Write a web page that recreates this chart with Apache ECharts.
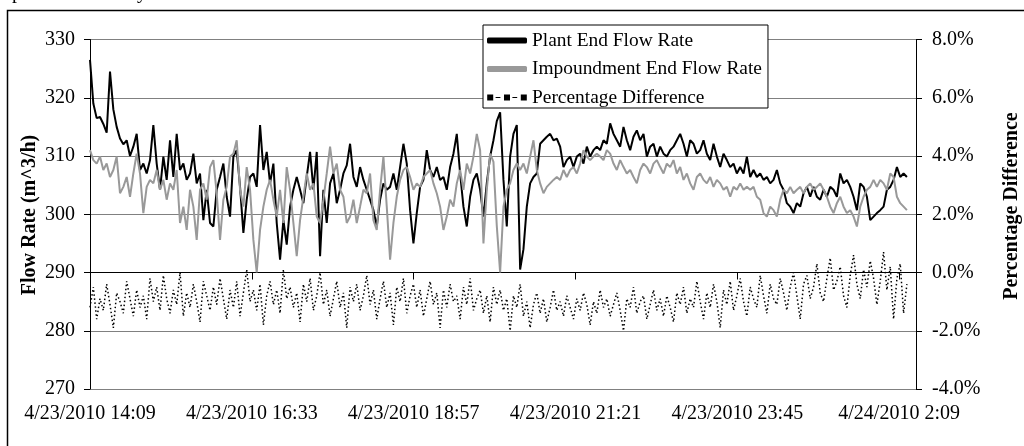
<!DOCTYPE html>
<html>
<head>
<meta charset="utf-8">
<script src="https://cdn.jsdelivr.net/npm/echarts@6/dist/echarts.min.js"></script>
<style>
html,body{margin:0;padding:0;background:#fff;}
#chart{width:1024px;height:446px;}
</style>
</head>
<body>
<div id="chart"></div>
<script>
// ---- Data ----
// x axis: minutes after 4/23/2010 14:09
const X_TICK_MINUTES = [0, 144, 288, 432, 576, 720];
const X_TICK_LABELS = ['4/23/2010 14:09', '4/23/2010 16:33', '4/23/2010 18:57', '4/23/2010 21:21', '4/23/2010 23:45', '4/24/2010 2:09'];
const X_MAX_MINUTES = 735;
const SAMPLE_MINUTES = 2.967; // spacing of the samples

const LEFT_TICKS = [270, 280, 290, 300, 310, 320, 330];
const RIGHT_TICKS = [-4, -2, 0, 2, 4, 6, 8];

const PLANT = [
326.5, 319.0, 316.5, 316.7, 315.5, 314.0, 324.5, 318.0, 315.0, 313.0,
312.0, 312.7, 310.0, 311.6, 313.8, 307.6, 308.7, 307.0, 309.3, 315.3,
308.7, 304.2, 309.9, 305.9, 312.7, 306.4, 313.8, 307.6, 308.7, 305.9,
307.0, 310.4, 305.3, 307.0, 299.0, 304.2, 298.5, 297.9, 304.2, 306.4,
308.7, 303.0, 299.6, 309.9, 311.0, 304.7, 296.8, 302.5, 306.4, 307.0,
304.7, 315.3, 307.6, 310.7, 305.3, 308.7, 298.5, 292.2, 299.0, 294.8,
301.3, 304.2, 306.4, 304.2, 301.9, 306.4, 310.7, 304.2, 310.7, 292.8,
304.2, 298.5, 305.3, 307.0, 301.9, 304.2, 307.0, 308.4, 312.1, 306.4,
304.7, 308.1, 305.9, 304.2, 302.5, 300.7, 297.9, 302.5, 305.3, 304.2,
304.7, 307.0, 304.2, 308.1, 312.1, 308.7, 300.7, 295.0, 300.2, 304.7,
305.9, 311.0, 307.6, 306.4, 308.1, 305.9, 306.4, 304.2, 308.1, 310.4,
313.8, 307.0, 301.3, 297.9, 303.0, 305.9, 307.0, 304.2, 299.6, 305.3,
309.9, 312.7, 316.0,
317.5, 305.9, 297.9, 309.9, 313.8, 315.3, 290.5, 294.0, 301.3, 305.3,
306.4, 307.0, 312.1, 312.7, 313.3, 313.8, 312.7, 313.0, 311.6, 308.1,
309.3, 309.9, 308.1, 309.9, 310.4, 308.7, 311.6, 309.9, 311.0, 311.6,
311.0, 312.7, 312.1, 315.6, 313.8, 312.7, 311.6, 315.0, 312.7, 311.0,
313.3, 314.4, 312.7, 313.8, 309.9, 311.6, 312.1, 309.9, 311.6, 310.4,
309.9, 311.0, 311.6, 312.7, 313.8, 312.1, 309.9, 312.7, 312.1, 310.4,
311.0, 312.7, 310.4, 309.3, 312.1, 309.9, 308.1, 310.4, 309.3, 308.1,
308.7, 307.0, 308.1, 307.0, 309.9, 306.4, 307.6, 306.4, 307.0, 305.9,
306.4, 305.3, 305.9, 307.6, 305.3, 304.2, 301.9, 301.3, 300.2, 301.9,
301.3, 303.6, 304.7, 303.0, 304.7, 303.0, 302.5, 304.2, 303.0, 304.7,
304.2, 303.0, 307.0, 305.3, 305.9, 304.7, 303.0, 300.7, 305.3, 304.7,
303.0, 299.0, 299.6, 300.2, 300.7, 301.3, 304.2, 304.7, 305.9, 308.1,
306.4, 307.0, 306.4
];

const IMPOUNDMENT = [
311.0, 309.3, 308.7, 309.9, 307.6, 308.7, 306.4, 307.6, 309.9, 303.6,
304.7, 306.4, 303.0, 307.0, 310.4, 307.0, 300.2, 304.7, 305.9, 305.3,
307.6, 304.2, 305.9, 302.5, 305.3, 304.2, 307.6, 298.5, 301.3, 297.3,
304.2, 301.3, 295.6, 304.2, 305.3, 302.5, 308.1, 309.3, 303.6, 295.6,
302.5, 304.7, 309.9, 310.4, 312.7, 304.2, 301.3, 308.1, 304.2, 295.6,
290.0, 297.3, 301.3, 304.2, 305.9, 302.5, 299.6, 304.2, 298.5, 308.1,
304.2, 298.5, 292.8, 299.0, 303.0, 307.0, 304.2, 305.3, 299.6, 298.5,
302.5, 307.0, 311.6, 307.0, 308.7, 304.2, 303.0, 298.5, 299.6, 302.5,
298.5, 301.3, 304.2, 303.6, 307.0, 299.0, 297.3, 304.2, 309.9, 301.3,
292.2, 298.5, 303.0, 305.9, 307.6, 308.1, 306.4, 304.2, 305.3, 304.7,
306.4, 307.0, 307.6, 305.3, 303.6, 301.3, 297.3, 299.6, 302.5, 301.3,
305.3, 307.6, 304.2, 308.7, 307.0, 309.9, 313.8, 311.0, 295.0, 304.2,
310.4, 309.0, 298.0,
290.0, 301.3, 304.2, 305.3, 307.6, 308.7, 307.6, 308.7, 307.0, 309.9,
312.7, 307.6, 305.3, 303.6, 304.7, 305.3, 305.9, 306.4, 305.9, 307.6,
306.4, 307.6, 308.1, 307.0, 308.7, 311.0, 309.9, 309.3, 309.9, 310.4,
309.9, 309.3, 311.0, 310.4, 308.7, 307.6, 309.3, 308.1, 307.0, 307.6,
306.4, 305.3, 307.6, 308.7, 308.1, 307.0, 308.7, 309.3, 308.1, 307.0,
308.7, 308.1, 309.3, 307.0, 308.1, 305.9, 307.0, 305.3, 304.2, 306.4,
307.0, 305.9, 305.3, 306.4, 304.7, 305.9, 305.3, 304.2, 304.7, 303.0,
304.7, 304.2, 305.3, 304.2, 304.7, 304.2, 304.7, 303.0, 302.5, 300.2,
299.6, 301.3, 300.7, 299.6, 302.5, 304.2, 303.6, 304.7, 303.6, 304.2,
304.7, 303.6, 304.7, 305.3, 304.2, 304.7, 305.3, 304.2, 303.0, 301.3,
300.2, 301.9, 303.0, 301.3, 300.2, 300.7, 299.6, 297.9, 301.3, 303.0,
304.2, 304.7, 305.9, 304.7, 305.9, 305.3, 304.2, 307.0, 306.4, 303.0,
301.9, 301.3, 300.7
];

// percentage difference, in %
const PCT_DIFF = [
-1.2, -0.5, -1.6, -0.9, -1.3, -0.4, -1.1, -1.9, -0.7, -1.0,
-1.4, -0.3, -0.9, -1.5, -0.6, -1.2, -0.8, -1.6, -0.2, -1.0,
-0.5, -1.3, -0.1, -0.9, -1.4, -0.6, -1.1, 0.0, -1.5, -0.7,
-1.2, -0.4, -1.0, -1.7, -0.3, -0.8, -1.3, -0.5, -1.1, -0.2,
-0.9, -1.6, -0.6, -1.2, -0.3, -1.5, -0.7, 0.1, -1.0, -0.6,
-1.3, -0.4, -1.8, -0.8, -0.3, -1.1, -0.6, -1.4, 0.1, -0.9,
-0.5, -1.2, -0.7, -1.7, -0.4, -1.0, -0.2, -1.3, -0.8, 0.0,
-1.1, -0.6, -1.5, -0.9, -0.3, -1.2, -0.7, -1.9, -0.5, -1.0,
-0.4, -1.3, -0.8, -0.1, -1.1, -0.6, -1.6, -0.9, -0.3, -1.2,
-0.7, -1.8, -0.5, -1.0, -0.2, -1.4, -0.8, -0.4, -1.2, -0.6,
-1.5, -0.9, -0.3, -1.1, -0.7, -1.9, -0.6, -1.2, -0.4, -1.0,
-0.8, -1.6, -0.5, -1.1, -0.2, -1.3, -0.9, -0.6, -1.4, -0.8,
-1.7, -0.5, -1.1,
-0.6, -1.3, -0.9, -2.0, -0.8, -1.2, -0.4, -1.5, -1.0, -1.9,
-1.1, -0.7, -1.4, -0.9, -1.7, -1.2, -0.6, -1.3, -1.0, -1.5,
-0.8, -1.2, -1.6, -0.9, -1.3, -0.7, -1.1, -1.8, -1.0, -1.4,
-0.6, -1.2, -0.9, -1.5, -1.1, -0.7, -1.3, -2.0, -0.9, -1.2,
-0.5, -1.4, -1.0, -0.8, -1.6, -1.1, -0.6, -1.3, -0.9, -1.5,
-0.8, -1.2, -1.7, -0.7, -1.1, -0.5, -1.4, -0.9, -1.2, -0.3,
-1.0, -1.6, -0.7, -1.2, -0.4, -1.0, -1.9, -0.6, -1.1, -0.3,
-1.3, -0.8, -0.2, -1.0, -1.5, -0.5, -0.9, -1.2, -0.1, -0.8,
-1.4, -0.4, -0.9, -1.1, -0.2, -0.7, -1.3, -0.5, 0.0, -0.8,
-1.6, -0.4, -0.1, -0.9, -0.5, 0.3, -0.7, -1.0, -0.2, 0.5,
-0.6, -0.3, 0.2, -0.8, -1.2, -0.1, 0.6, -0.4, -0.9, 0.1,
-0.5, 0.4, -0.2, -1.1, -0.3, 0.7, -0.6, 0.2, -1.6, -0.2,
0.3, -1.4, -0.4
];

// ---- Chart ----
const FONT = '"Liberation Serif", "Times New Roman", serif';
const toPairs = arr => arr.map((v, i) => [i * SAMPLE_MINUTES, v]);
const tickLabel = v => {
  const idx = X_TICK_MINUTES.indexOf(Math.round(v));
  return idx >= 0 ? X_TICK_LABELS[idx] : '';
};

const chart = echarts.init(document.getElementById('chart'), null, {renderer: 'canvas'});
chart.setOption({
  animation: false,
  backgroundColor: '#fff',
  textStyle: {fontFamily: FONT},
  grid: {left: 90, right: 108, top: 39.5, bottom: 57, containLabel: false},
  legend: {
    left: 483, top: 25, orient: 'vertical',
    backgroundColor: '#fff', borderColor: '#000', borderWidth: 1, borderRadius: 0,
    padding: [6, 6, 1, 4], itemGap: 9.5, itemWidth: 40, itemHeight: 6,
    textStyle: {fontFamily: FONT, fontSize: 19.4, color: '#000'},
    data: [
      {name: 'Plant End Flow Rate', icon: 'roundRect', itemStyle: {color: '#000'}},
      {name: 'Impoundment End Flow Rate', icon: 'roundRect', itemStyle: {color: '#999'}},
      {name: 'Percentage Difference', icon: 'path://M0,0h5v5h-5zM7,2h4v1h-4zM14,0h5v5h-5zM21,2h4v1h-4zM28,0h5v5h-5z', itemStyle: {color: '#000'}}
    ]
  },
  xAxis: {
    type: 'value', min: 0, max: X_MAX_MINUTES, interval: 144,
    axisLine: {show: true, lineStyle: {color: '#000', width: 1}},
    axisTick: {show: true, length: 7, lineStyle: {color: '#000'}, customValues: X_TICK_MINUTES},
    axisLabel: {show: true, color: '#000', fontSize: 20, fontFamily: FONT, margin: 15, formatter: tickLabel, customValues: X_TICK_MINUTES, hideOverlap: false},
    splitLine: {show: false}
  },
  yAxis: [
    {
      type: 'value', position: 'left', min: LEFT_TICKS[0], max: LEFT_TICKS[LEFT_TICKS.length - 1], interval: 10,
      axisLine: {show: true, lineStyle: {color: '#000'}},
      axisTick: {show: true, length: 6, lineStyle: {color: '#000'}},
      axisLabel: {color: '#000', fontSize: 20, fontFamily: FONT, margin: 15},
      splitLine: {show: true, lineStyle: {color: '#808080', width: 1}}
    },
    {
      type: 'value', position: 'right', min: RIGHT_TICKS[0], max: RIGHT_TICKS[RIGHT_TICKS.length - 1], interval: 2,
      axisLine: {show: true, lineStyle: {color: '#000'}},
      axisTick: {show: true, length: 6, lineStyle: {color: '#000'}},
      axisLabel: {color: '#000', fontSize: 20, fontFamily: FONT, margin: 16, formatter: v => v.toFixed(1) + '%'},
      splitLine: {show: false}
    }
  ],
  series: [
    {
      name: 'Percentage Difference', type: 'line', yAxisIndex: 1,
      data: toPairs(PCT_DIFF), symbol: 'none', showSymbol: false,
      itemStyle: {color: '#000'},
      lineStyle: {color: '#000', width: 1.5, type: [1.5, 2.5]},
      z: 2
    },
    {
      name: 'Plant End Flow Rate', type: 'line', yAxisIndex: 0,
      data: toPairs(PLANT), symbol: 'none', showSymbol: false,
      itemStyle: {color: '#000'},
      lineStyle: {color: '#000', width: 2},
      z: 3
    },
    {
      name: 'Impoundment End Flow Rate', type: 'line', yAxisIndex: 0,
      data: toPairs(IMPOUNDMENT), symbol: 'none', showSymbol: false,
      itemStyle: {color: '#999'},
      lineStyle: {color: '#999', width: 2},
      z: 4
    }
  ],
  graphic: [
    {type: 'rect', silent: true, z: -10, shape: {x: 7.5, y: 10.5, width: 1040, height: 460}, style: {fill: 'none', stroke: '#000', lineWidth: 1.5}},
    {type: 'text', silent: true, x: 2, y: 3, style: {text: 'operated correctly.', font: '20px ' + FONT, fill: '#000', align: 'left', verticalAlign: 'bottom'}},
    {type: 'text', silent: true, x: 30, y: 215, rotation: Math.PI / 2, style: {text: 'Flow Rate (m^3/h)', font: 'bold 20px ' + FONT, fill: '#000', align: 'center', verticalAlign: 'middle'}},
    {type: 'text', silent: true, x: 1012, y: 206, rotation: Math.PI / 2, style: {text: 'Percentage Difference', font: 'bold 20px ' + FONT, fill: '#000', align: 'center', verticalAlign: 'middle'}}
  ]
});
</script>
</body>
</html>
